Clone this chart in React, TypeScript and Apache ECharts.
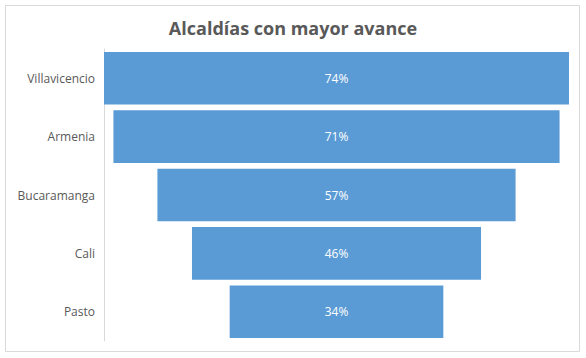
import React, { useEffect, useRef } from "react";
import * as echarts from "echarts";

const categories = ["Villavicencio", "Armenia", "Bucaramanga", "Cali", "Pasto"];
const values = [74, 71, 57, 46, 34];
const titleText = "Alcaldías con mayor avance";

export default function App() {
  const ref = useRef<HTMLDivElement>(null);
  useEffect(() => {
    const chart = echarts.init(ref.current!, null, { renderer: "svg" });
    const maxV = Math.max(...values);
    const offsets = values.map((v) => (maxV - v) / 2);
    chart.setOption({
      animation: false,
      backgroundColor: "#ffffff",
      title: {
        text: titleText,
        left: "center",
        top: 14,
        textStyle: { fontFamily: "Open Sans", fontWeight: "bold", fontSize: 18, color: "#595959" },
      },
      graphic: [
        {
          type: "rect",
          shape: { x: 5.5, y: 5.5, width: 574, height: 346 },
          style: { fill: "none", stroke: "#d9d9d9", lineWidth: 1 },
          silent: true,
        },
      ],
      grid: { left: 104, right: 17, top: 49, bottom: 17, containLabel: false },
      xAxis: {
        type: "value",
        min: 0,
        max: maxV,
        show: false,
      },
      yAxis: {
        type: "category",
        data: categories,
        inverse: true,
        axisLine: { show: true, lineStyle: { color: "#d9d9d9", width: 1 } },
        axisTick: { show: false },
        axisLabel: { color: "#595959", fontSize: 12, fontFamily: "Open Sans", margin: 9 },
      },
      series: [
        {
          type: "bar",
          stack: "f",
          data: offsets,
          itemStyle: { color: "transparent" },
          silent: true,
          barCategoryGap: "10%",
        },
        {
          type: "bar",
          stack: "f",
          data: values,
          barCategoryGap: "10%",
          itemStyle: { color: "#5B9BD5" },
          label: {
            show: true,
            position: "inside",
            formatter: (p: any) => p.value + "%",
            color: "#ffffff",
            fontSize: 12,
            fontFamily: "Open Sans",
          },
        },
      ],
    });
    return () => chart.dispose();
  }, []);
  return (
    <div
      ref={ref}
      style={{ position: "fixed", left: 0, top: 0, width: 586, height: 358 }}
    />
  );
}
